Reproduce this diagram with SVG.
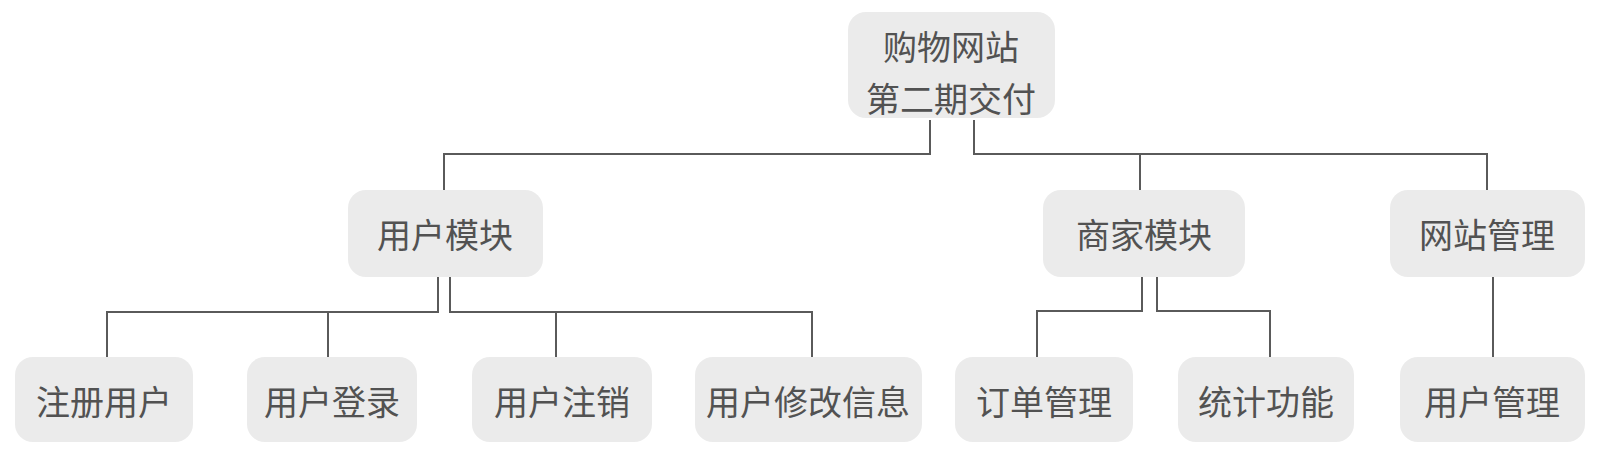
<svg xmlns="http://www.w3.org/2000/svg" width="1615" height="462" viewBox="0 0 1615 462">
<style>
.box{fill:#ebebeb;}
.t{font-family:"Noto Sans CJK SC","Noto Sans",sans-serif;font-size:34px;fill:#525252;text-anchor:middle;dominant-baseline:central;}
.c{fill:none;stroke:#5a5a5a;stroke-width:2;}
</style>
<rect width="1615" height="462" fill="#ffffff"/>
<g id="connectors" class="c">
<path d="M930 120 V154 H444 V190"/>
<path d="M974 120 V154 H1487 V190"/>
<path d="M1140 154 V190"/>
<path d="M438 277 V312 H107 V357"/>
<path d="M328 312 V357"/>
<path d="M450 277 V312 H812 V357"/>
<path d="M556 312 V357"/>
<path d="M1142 277 V311 H1037 V357"/>
<path d="M1157 277 V311 H1270 V357"/>
<path d="M1493 277 V357"/>
</g>
<g id="root">
<rect class="box" x="848" y="12" width="207" height="106" rx="18"/>
<text class="t" x="951" y="45">购物网站</text>
<text class="t" x="951" y="97">第二期交付</text>
</g>
<g id="user-module">
<rect class="box" x="348" y="190" width="195" height="87" rx="18"/>
<text class="t" x="445" y="233">用户模块</text>
</g>
<g id="merchant-module">
<rect class="box" x="1043" y="190" width="202" height="87" rx="18"/>
<text class="t" x="1144" y="233">商家模块</text>
</g>
<g id="site-admin">
<rect class="box" x="1390" y="190" width="195" height="87" rx="18"/>
<text class="t" x="1487" y="233">网站管理</text>
</g>
<g id="register-user">
<rect class="box" x="15" y="357" width="178" height="85" rx="18"/>
<text class="t" x="104" y="400">注册用户</text>
</g>
<g id="user-login">
<rect class="box" x="247" y="357" width="170" height="85" rx="18"/>
<text class="t" x="332" y="400">用户登录</text>
</g>
<g id="user-logout">
<rect class="box" x="472" y="357" width="180" height="85" rx="18"/>
<text class="t" x="562" y="400">用户注销</text>
</g>
<g id="user-edit-info">
<rect class="box" x="695" y="357" width="227" height="85" rx="18"/>
<text class="t" x="808" y="400">用户修改信息</text>
</g>
<g id="order-admin">
<rect class="box" x="955" y="357" width="178" height="85" rx="18"/>
<text class="t" x="1044" y="400">订单管理</text>
</g>
<g id="statistics">
<rect class="box" x="1178" y="357" width="176" height="85" rx="18"/>
<text class="t" x="1266" y="400">统计功能</text>
</g>
<g id="user-admin">
<rect class="box" x="1400" y="357" width="185" height="85" rx="18"/>
<text class="t" x="1492" y="400">用户管理</text>
</g>
</svg>
